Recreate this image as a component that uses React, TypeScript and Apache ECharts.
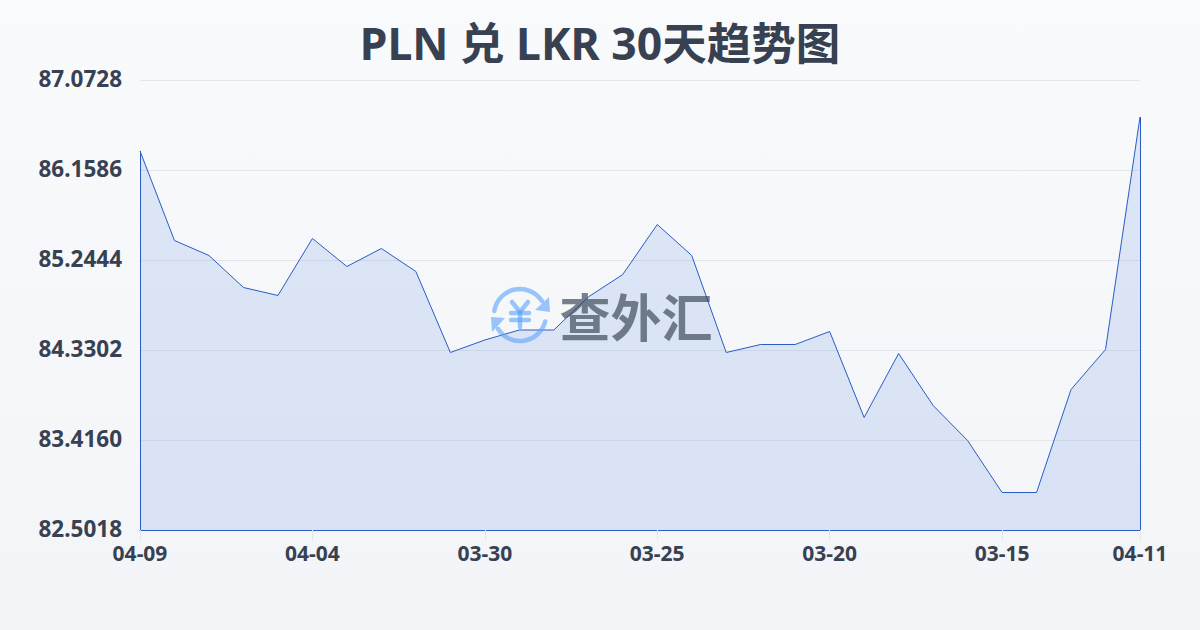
import React, { useEffect, useRef } from "react";
import * as echarts from "echarts";

const categories = [
  "04-09", "04-08", "04-07", "04-06", "04-05", "04-04", "04-03", "04-02", "04-01", "03-31",
  "03-30", "03-29", "03-28", "03-27", "03-26", "03-25", "03-24", "03-23", "03-22", "03-21",
  "03-20", "03-19", "03-18", "03-17", "03-16", "03-15", "03-14", "03-13", "03-12", "04-11",
];
const rates = [
  86.3516, 85.4426, 85.2902, 84.9651, 84.8839, 85.4629, 85.1784, 85.3613, 85.1277, 84.3049,
  84.4318, 84.5333, 84.5333, 84.8686, 85.0972, 85.6051, 85.2902, 84.3049, 84.3861, 84.3861,
  84.5182, 83.6446, 84.2947, 83.7665, 83.411, 82.8828, 82.8828, 83.929, 84.3354, 86.697,
];
const yTicks = [82.5018, 83.416, 84.3302, 85.2444, 86.1586, 87.0728];
const shownLabels = ["04-09", "04-04", "03-30", "03-25", "03-20", "03-15", "04-11"];
const titleText = "PLN 兑 LKR 30天趋势图";
const watermarkText = "查外汇";

const FONT = '"Noto Sans", "Noto Sans CJK SC", sans-serif';
const LINE = "#2a5cc4";
const INK = "#374151";
const LOGO = "rgba(96,165,250,0.62)";
const MARK = "rgba(55,65,81,0.66)";
const showTick = (i: number) => shownLabels.includes(categories[i]);

export default function App() {
  const ref = useRef<HTMLDivElement>(null);
  useEffect(() => {
    document.body.style.margin = "0";
    const chart = echarts.init(ref.current!, undefined, { renderer: "svg" });
    const last = categories.length - 1;
    const strokeStyle = { stroke: LOGO, lineWidth: 4.5, fill: "none", lineCap: "round", lineJoin: "round" };
    chart.setOption({
      animation: false,
      backgroundColor: {
        type: "linear", x: 0, y: 0, x2: 0, y2: 1,
        colorStops: [{ offset: 0, color: "#f9fafc" }, { offset: 1, color: "#f2f4f7" }],
      },
      title: {
        text: titleText, left: "center", top: 15,
        textStyle: { fontFamily: FONT, fontSize: 44.5, fontWeight: "bold", color: INK },
      },
      grid: { left: 140, right: 60, top: 80, bottom: 100 },
      xAxis: {
        type: "category", data: categories, boundaryGap: false,
        axisLine: { show: true, lineStyle: { color: LINE, width: 1 } },
        axisTick: { show: true, length: 10, interval: (i: number) => showTick(i), lineStyle: { color: "#e2e5ea" } },
        axisLabel: {
          interval: (i: number) => showTick(i), color: INK, fontFamily: FONT,
          fontSize: 21, fontWeight: "bold", margin: 12, hideOverlap: false,
        },
        splitLine: { show: false },
      },
      yAxis: {
        type: "value", min: yTicks[0], max: yTicks[yTicks.length - 1],
        axisLine: { show: false },
        axisTick: { show: false, customValues: yTicks },
        axisLabel: {
          customValues: yTicks, formatter: (v: number) => `{v|${v.toFixed(4)}}`, margin: 18,
          rich: {
            v: { color: INK, fontFamily: FONT, fontSize: 22.5, fontWeight: "bold", padding: [0, 0, 4, 0] },
          },
        },
        splitLine: { show: true, lineStyle: { color: "#e3e6eb", width: 1 } },
      },
      graphic: [
        { type: "arc", z: 10, silent: true, shape: { cx: 520, cy: 315, r: 26, startAngle: Math.PI * 1.05, endAngle: Math.PI * 1.82, clockwise: true }, style: strokeStyle },
        { type: "arc", z: 10, silent: true, shape: { cx: 520, cy: 315, r: 26, startAngle: Math.PI * 0.08, endAngle: Math.PI * 0.82, clockwise: true }, style: strokeStyle },
        { type: "polygon", z: 10, silent: true, shape: { points: [[549, 297], [550, 312], [535, 310]] }, style: { fill: LOGO } },
        { type: "polygon", z: 10, silent: true, shape: { points: [[491, 317], [505, 318], [492, 332]] }, style: { fill: LOGO } },
        { type: "polyline", z: 10, silent: true, shape: { points: [[512, 302], [520, 312], [528, 302]] }, style: strokeStyle },
        { type: "line", z: 10, silent: true, shape: { x1: 520, y1: 312, x2: 520, y2: 327 }, style: strokeStyle },
        { type: "line", z: 10, silent: true, shape: { x1: 511, y1: 313, x2: 529, y2: 313 }, style: strokeStyle },
        { type: "line", z: 10, silent: true, shape: { x1: 511, y1: 320, x2: 529, y2: 320 }, style: strokeStyle },
        { type: "text", z: 10, silent: true, x: 636, y: 315, style: { text: watermarkText, x: 0, y: 0, align: "center", verticalAlign: "middle", fontFamily: '"Noto Sans CJK SC"', fontSize: 51, fontWeight: "bold", fill: MARK } },
      ],
      series: [
        {
          type: "line", data: rates, z: 3, symbol: "none", smooth: false,
          lineStyle: { color: LINE, width: 1 },
          areaStyle: { color: "rgba(59,110,220,0.2)" },
          markLine: {
            silent: true, symbol: "none", animation: false, label: { show: false },
            lineStyle: { color: LINE, width: 1, type: "solid" },
            data: [
              [{ coord: [0, yTicks[0]] }, { coord: [0, rates[0]] }],
              [{ coord: [last, yTicks[0]] }, { coord: [last, rates[last]] }],
            ],
          },
        },
      ],
    });
    return () => chart.dispose();
  }, []);
  return <div ref={ref} style={{ width: 1200, height: 630 }} />;
}
